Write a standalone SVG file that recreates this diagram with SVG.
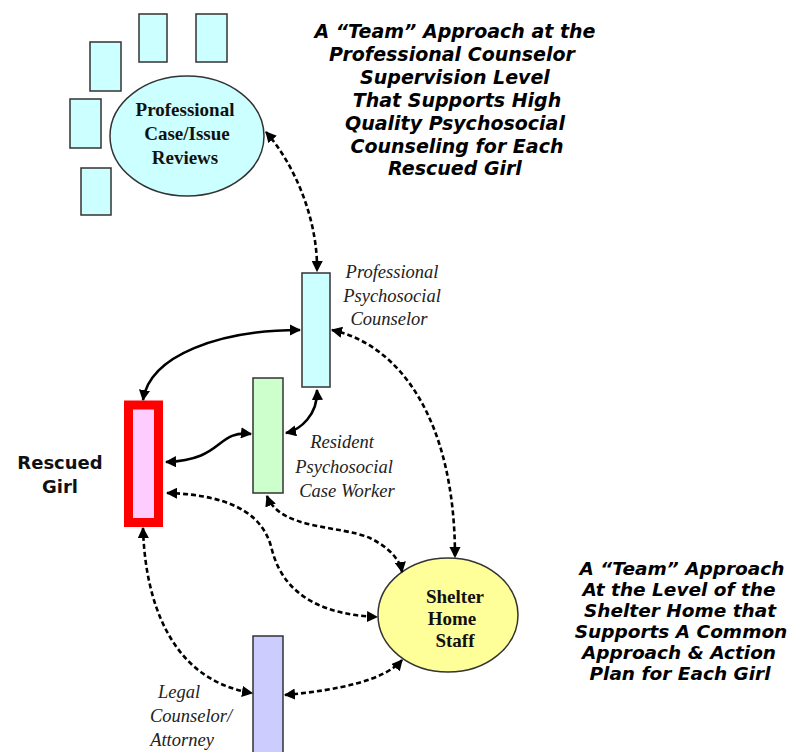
<svg xmlns="http://www.w3.org/2000/svg" width="793" height="752" viewBox="0 0 793 752">
<defs>
<style>
.box{stroke:#333;stroke-width:1.5}
.cyan{fill:#ccffff}
.conn{fill:none;stroke:#000;stroke-width:2.6;marker-start:url(#ah);marker-end:url(#ah)}
.dash{stroke-dasharray:5 3}
.title{font-family:"DejaVu Sans",Verdana,sans-serif;font-weight:bold;font-style:italic;font-size:19px;fill:#000;text-anchor:middle}
.title2{font-size:18.5px}
.nodelbl{font-family:"Liberation Serif","Times New Roman",serif;font-weight:bold;font-size:19px;fill:#111;text-anchor:middle}
.role{font-family:"Liberation Serif","Times New Roman",serif;font-style:italic;font-size:18.5px;fill:#222;text-anchor:middle}
.girl{font-family:"DejaVu Sans",Verdana,sans-serif;font-weight:bold;font-size:18px;fill:#111;text-anchor:middle}
</style>
<marker id="ah" viewBox="0 0 10 10" refX="9" refY="5" markerWidth="4.3" markerHeight="4.3" orient="auto-start-reverse" markerUnits="strokeWidth">
<path d="M0,0 L10,5 L0,10 z" fill="#000"/>
</marker>
</defs>
<rect width="793" height="752" fill="#fff"/>

<g id="review-papers">
<rect class="box cyan" x="139" y="14" width="28" height="48"/>
<rect class="box cyan" x="196" y="14" width="31" height="48"/>
<rect class="box cyan" x="90" y="42" width="31" height="49"/>
<rect class="box cyan" x="70" y="99" width="31" height="49"/>
<rect class="box cyan" x="81" y="168" width="30" height="47"/>
</g>

<g id="case-reviews">
<ellipse class="box cyan" cx="187" cy="136" rx="77" ry="60"/>
<text class="nodelbl" x="185" y="116">Professional</text>
<text class="nodelbl" x="187" y="140">Case/Issue</text>
<text class="nodelbl" x="185" y="164">Reviews</text>
</g>

<g id="title-top">
<text class="title" x="455" y="38">A “Team” Approach at the</text>
<text class="title" x="452" y="61">Professional Counselor</text>
<text class="title" x="455" y="84">Supervision Level</text>
<text class="title" x="457" y="107">That Supports High</text>
<text class="title" x="455" y="130">Quality Psychosocial</text>
<text class="title" x="457" y="153">Counseling for Each</text>
<text class="title" x="455" y="175">Rescued Girl</text>
</g>

<g id="counselor">
<rect class="box cyan" x="302" y="273" width="28" height="114"/>
<text class="role" x="392" y="278">Professional</text>
<text class="role" x="392" y="302">Psychosocial</text>
<text class="role" x="389" y="325">Counselor</text>
</g>

<g id="case-worker">
<rect class="box" fill="#ccffcc" x="253" y="378" width="30" height="115"/>
<text class="role" x="342" y="448">Resident</text>
<text class="role" x="344" y="473">Psychosocial</text>
<text class="role" x="347" y="497">Case Worker</text>
</g>

<g id="rescued-girl">
<rect x="128.5" y="405" width="30" height="117.5" fill="#ffccff" stroke="#ff0000" stroke-width="9"/>
<text class="girl" x="60" y="469">Rescued</text>
<text class="girl" x="60" y="493">Girl</text>
</g>

<g id="shelter-staff">
<ellipse class="box" fill="#ffff99" cx="448" cy="615" rx="70" ry="57"/>
<text class="nodelbl" x="455" y="603">Shelter</text>
<text class="nodelbl" x="452" y="625">Home</text>
<text class="nodelbl" x="455" y="647">Staff</text>
</g>

<g id="legal">
<rect class="box" fill="#ccccff" x="253" y="636" width="30" height="125"/>
<text class="role" x="179" y="698">Legal</text>
<text class="role" x="191" y="722">Counselor/</text>
<text class="role" x="182" y="746">Attorney</text>
</g>

<g id="title-bottom">
<text class="title title2" x="682" y="575">A “Team” Approach</text>
<text class="title title2" x="679" y="596">At the Level of the</text>
<text class="title title2" x="680" y="617">Shelter Home that</text>
<text class="title title2" x="681" y="638">Supports A Common</text>
<text class="title title2" x="679" y="659">Approach &amp; Action</text>
<text class="title title2" x="680" y="680">Plan for Each Girl</text>
</g>

<g id="connectors">
<path class="conn dash" d="M266,132 C295,165 318,220 317,271"/>
<path class="conn" d="M300,330 C220,330 150,355 143,400"/>
<path class="conn" d="M317,390 C318,415 300,430 286,433"/>
<path class="conn" d="M251,434 C215,430 225,460 166,462"/>
<path class="conn dash" d="M332,330 C400,345 455,420 455,557"/>
<path class="conn dash" d="M167,493 C240,495 265,520 272,550 C285,600 330,615 377,617"/>
<path class="conn dash" d="M267,496 C280,530 340,525 370,538 C390,548 400,560 402,572"/>
<path class="conn dash" d="M143,528 C145,600 170,680 252,693"/>
<path class="conn dash" d="M285,695 C340,690 385,680 402,660"/>
</g>
</svg>
